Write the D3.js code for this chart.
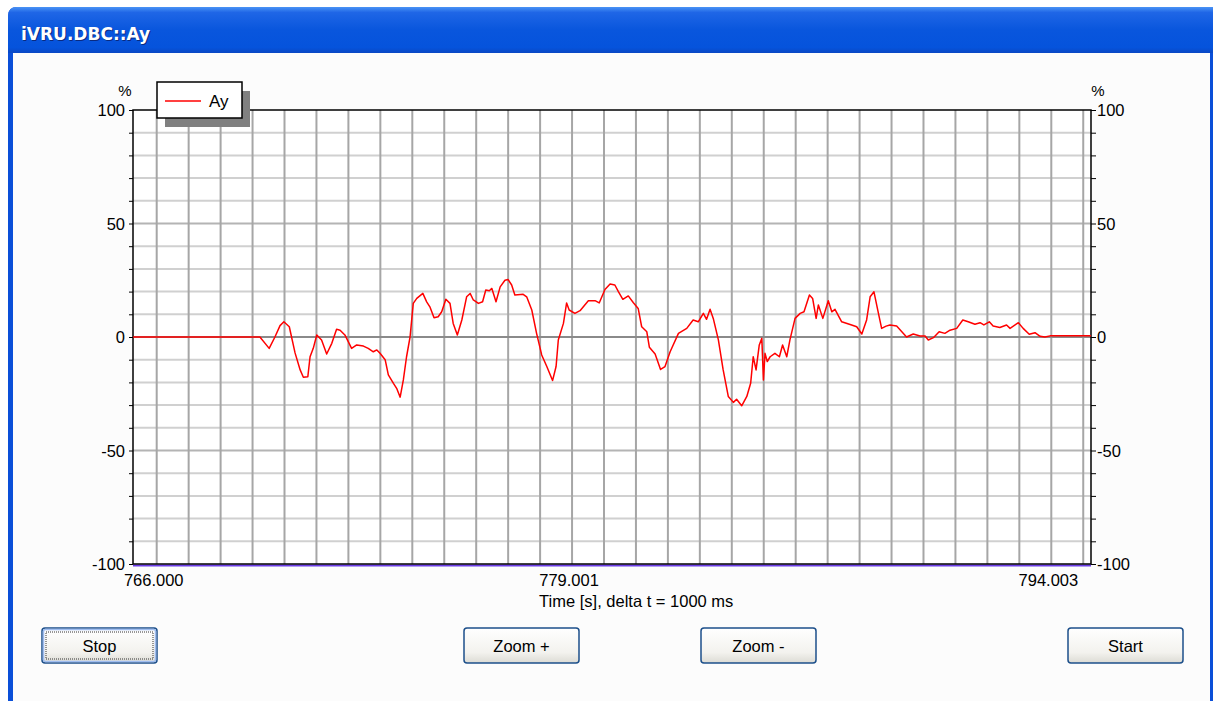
<!DOCTYPE html>
<html>
<head>
<meta charset="utf-8">
<script src="https://cdn.jsdelivr.net/npm/d3@7"></script>
<style>
  body{margin:0;background:#fff;}
  svg{display:block;}
  text{font-family:"Liberation Sans",Arial,sans-serif;}
</style>
</head>
<body>
<div id="chart"></div>
<script>
const windowTitle = "iVRU.DBC::Ay"
const seriesName = "Ay"
const unitLabel = "%"
const timeAxisTitle = "Time [s], delta t = 1000 ms"

const timeDomain = [765.258, 795.243]
const timeTickValues = [766.000, 779.001, 794.003]
const timeTickLabels = ["766.000", "779.001", "794.003"]
const yMajorTicks = [-100, -50, 0, 50, 100]
const buttonLabels = ["Stop", "Zoom +", "Zoom -", "Start"]

// sample times (s) and Ay (%)
const times = [765.26,769.23,769.52,769.70,769.86,769.98,770.15,770.33,770.49,770.59,770.73,770.80,770.90,771.01,771.16,771.32,771.48,771.63,771.74,771.89,
  772.10,772.26,772.47,772.62,772.78,772.89,772.99,773.15,773.25,773.41,773.51,773.62,773.72,773.82,773.93,774.03,774.14,774.33,774.45,774.55,
  774.68,774.81,774.92,775.05,775.18,775.28,775.41,775.55,775.70,775.81,775.91,776.07,776.20,776.30,776.41,776.49,776.62,776.75,776.90,777.00,
  777.11,777.21,777.47,777.58,777.74,777.89,778.05,778.21,778.39,778.50,778.57,778.73,778.83,778.91,779.09,779.25,779.51,779.72,779.85,780.03,
  780.19,780.34,780.45,780.59,780.76,780.92,781.07,781.18,781.34,781.42,781.60,781.77,781.91,782.07,782.33,782.59,782.79,782.95,783.11,783.21,
  783.32,783.42,783.58,783.73,783.89,784.05,784.15,784.31,784.47,784.59,784.67,784.76,784.86,784.94,784.99,785.04,785.11,785.20,785.35,785.49,
  785.59,785.72,785.82,785.98,786.14,786.26,786.43,786.53,786.64,786.71,786.85,787.02,787.13,787.23,787.44,787.75,787.91,788.07,788.22,788.33,
  788.45,788.59,788.69,788.83,788.95,789.16,789.47,789.68,789.89,790.05,790.15,790.31,790.49,790.67,790.83,791.04,791.23,791.40,791.61,791.77,
  791.89,792.06,792.18,792.39,792.60,792.71,792.97,793.12,793.31,793.49,793.65,793.80,793.96,795.24]
const ayValues = [0,0,-5,0,5,6.7,4.5,-7,-14.5,-17.7,-17.5,-8.7,-5,0.9,-1.3,-7.5,-2.8,3.4,3,0.9,
  -5,-3.5,-4,-5,-6.5,-5.7,-7.2,-10,-16.7,-20.4,-22.6,-26.5,-18.9,-8.7,0,14.8,17,19.2,15.5,13.3,
  8.5,8.9,11.1,16.6,14.8,6,0.9,7.5,17.7,19.2,16.3,14.8,15.5,20.7,20.4,21.4,15.5,22.1,25,25.3,
  22.9,18.5,18.8,17.7,11.9,1.6,-7.9,-13,-19.2,-13,-1.3,6,15,11.9,10.4,11.6,16,16,15,20.9,
  23.3,22.9,20,16.6,18.1,15.1,12.6,4.5,2.3,-4.5,-7.5,-14.3,-13,-6.5,1.6,3.8,7.5,6.7,10.4,7.8,
  12.2,8.2,-1.3,-14.5,-26.2,-28.8,-27.4,-30.3,-26.2,-20.4,-8.7,-14.5,-3.5,-0.6,-18.9,-7.2,-10.8,-8.7,-7.2,-8.7,
  -3.5,-8.7,-1.3,8.2,10.4,11.1,18.5,17,8.2,14.1,8.2,16,11.1,12.2,6.7,5.3,4.5,1.3,7.5,17.7,
  19.9,10.4,3.8,4.8,5.3,4.8,0,1.3,0.4,0.4,-1.3,-0.3,2.3,1.6,3,3.8,7.5,6.7,5.6,6.3,
  5.3,6.7,4.8,4.2,5.3,3.8,6.3,3.8,1.2,1.9,0.3,0,0.5,0.5]

drawWindow("#chart")

function drawWindow(id){
    const canvas = createCanvas()
    const svg = addSvg(id, canvas)
    addFrame(svg, canvas)
    const sc = addScales(canvas)
    addGrid(svg, sc, canvas)
    addAxes(svg, sc, canvas)
    addSeriesLine(svg, sc)
    addLegend(svg, canvas)
    addButtons(svg, canvas)
}

function createCanvas(){
    return {
        width: 1213, height: 701,
        plot: {left: 133, right: 1091, top: 110, bottom: 564},
        buttonY: 628, buttonH: 35, buttonW: 115,
        buttonX: [42, 464, 701, 1068]
    }
}

function addSvg(id, canvas){
    return d3.select(id).append("svg").attr("width", canvas.width).attr("height", canvas.height)
}

function addFrame(svg, canvas){
    const defs = svg.append("defs")
    const g = defs.append("linearGradient").attr("id", "titleGrad").attr("x1", 0).attr("y1", 0).attr("x2", 0).attr("y2", 1)
    g.append("stop").attr("offset", "0").attr("stop-color", "#4a93f5")
    g.append("stop").attr("offset", "0.12").attr("stop-color", "#1f66e6")
    g.append("stop").attr("offset", "0.5").attr("stop-color", "#0956dd")
    g.append("stop").attr("offset", "0.88").attr("stop-color", "#0553dc")
    g.append("stop").attr("offset", "1").attr("stop-color", "#0a48c4")

    const bg = defs.append("linearGradient").attr("id", "btnGrad").attr("x1", 0).attr("y1", 0).attr("x2", 0).attr("y2", 1)
    bg.append("stop").attr("offset", "0").attr("stop-color", "#ffffff")
    bg.append("stop").attr("offset", "0.7").attr("stop-color", "#f3f2ee")
    bg.append("stop").attr("offset", "1").attr("stop-color", "#dcdbd4")

    // outer blue window
    svg.append("path")
        .attr("d", "M8,701 L8,16 Q8,7 17,7 L1213,7 L1213,701 Z")
        .attr("fill", "#0a4fd8")
    svg.append("path")
        .attr("d", "M8,53 L8,16 Q8,7 17,7 L1213,7 L1213,53 Z")
        .attr("fill", "url(#titleGrad)")
    // client area
    svg.append("rect").attr("x", 13).attr("y", 53).attr("width", 1197).attr("height", 660).attr("fill", "#fcfcfc")

    svg.append("text").attr("x", 22).attr("y", 41).text(windowTitle)
        .style("font-family", "'DejaVu Sans',sans-serif").style("font-weight", "bold").style("font-size", "17px")
        .attr("fill", "#0a2a80")
    svg.append("text").attr("x", 21).attr("y", 40).text(windowTitle)
        .style("font-family", "'DejaVu Sans',sans-serif").style("font-weight", "bold").style("font-size", "17px")
        .attr("fill", "#ffffff")
}

function addScales(canvas){
    const xScale = d3.scaleLinear().domain(timeDomain).range([canvas.plot.left, canvas.plot.right])
    const yScale = d3.scaleLinear().domain([-100, 100]).range([canvas.plot.bottom, canvas.plot.top])
    return {xScale, yScale}
}

function addGrid(svg, sc, canvas){
    const p = canvas.plot
    svg.append("rect").attr("x", p.left).attr("y", p.top).attr("width", p.right - p.left).attr("height", p.bottom - p.top).attr("fill", "#ffffff")

    const hLines = d3.range(-90, 100, 10)
    svg.append("g").selectAll("line").data(hLines).join("line")
        .attr("x1", p.left).attr("x2", p.right)
        .attr("y1", d => sc.yScale(d)).attr("y2", d => sc.yScale(d))
        .attr("stroke", d => d === 0 ? "#8a8a8a" : (Math.abs(d) === 50 ? "#b4b4b4" : "#d0d0d0"))
        .attr("stroke-width", 2)

    const vLines = d3.range(Math.ceil(timeDomain[0]), Math.floor(timeDomain[1]) + 1)
    svg.append("g").selectAll("line").data(vLines).join("line")
        .attr("x1", d => sc.xScale(d)).attr("x2", d => sc.xScale(d))
        .attr("y1", p.top).attr("y2", p.bottom)
        .attr("stroke", "#a6a6a6").attr("stroke-width", 2)

    // zero line over verticals
    svg.append("line").attr("x1", p.left).attr("x2", p.right)
        .attr("y1", sc.yScale(0)).attr("y2", sc.yScale(0))
        .attr("stroke", "#8a8a8a").attr("stroke-width", 2)
}

function addAxes(svg, sc, canvas){
    const p = canvas.plot
    const minor = d3.range(-100, 101, 10)

    // left axis
    svg.append("g").attr("transform", `translate(${p.left},0)`)
        .call(d3.axisLeft(sc.yScale).tickValues(minor).tickSize(4).tickFormat(""))
        .call(g => g.select(".domain").remove())
        .call(g => g.selectAll("line").attr("stroke", "#000"))
    svg.append("g").selectAll("text").data(yMajorTicks).join("text")
        .attr("x", p.left - 8).attr("y", d => sc.yScale(d) + 6)
        .attr("text-anchor", "end").style("font-size", "16.5px").attr("fill", "#000")
        .text(d => d)

    // right axis
    svg.append("g").attr("transform", `translate(${p.right},0)`)
        .call(d3.axisRight(sc.yScale).tickValues(minor).tickSize(5).tickFormat(""))
        .call(g => g.select(".domain").remove())
        .call(g => g.selectAll("line").attr("stroke", "#000"))
    svg.append("g").selectAll("text").data(yMajorTicks).join("text")
        .attr("x", p.right + 6).attr("y", d => sc.yScale(d) + 6)
        .attr("text-anchor", "start").style("font-size", "16.5px").attr("fill", "#000")
        .text(d => d)

    svg.append("text").attr("x", p.left - 8).attr("y", 96).attr("text-anchor", "middle")
        .style("font-size", "15px").text(unitLabel)
    svg.append("text").attr("x", p.right + 7).attr("y", 96).attr("text-anchor", "middle")
        .style("font-size", "15px").text(unitLabel)

    // frame
    svg.append("path")
        .attr("d", `M${p.left},${p.bottom} L${p.left},${p.top} L${p.right},${p.top} L${p.right},${p.bottom}`)
        .attr("fill", "none").attr("stroke", "#000").attr("stroke-width", 1.5)

    // bottom axis (series at -100 underlay in purple)
    svg.append("line").attr("x1", p.left).attr("x2", p.right)
        .attr("y1", sc.yScale(-100) + 1.5).attr("y2", sc.yScale(-100) + 1.5)
        .attr("stroke", "#6a3ce6").attr("stroke-width", 2)
    svg.append("line").attr("x1", p.left).attr("x2", p.right)
        .attr("y1", sc.yScale(-100)).attr("y2", sc.yScale(-100))
        .attr("stroke", "#000").attr("stroke-width", 1.5)

    svg.append("g").selectAll("text").data(timeTickValues).join("text")
        .attr("x", d => sc.xScale(d) - 3).attr("y", p.bottom + 22)
        .attr("text-anchor", "middle").style("font-size", "16.5px").attr("fill", "#000")
        .text((d, i) => timeTickLabels[i])

    svg.append("text").attr("x", sc.xScale(timeTickValues[1]) - 33).attr("y", p.bottom + 43)
        .attr("text-anchor", "start").style("font-size", "16.5px").attr("fill", "#000")
        .text(timeAxisTitle)
}

function addSeriesLine(svg, sc){
    const data = times.map((t, i) => ({t: t, v: ayValues[i]}))
    const line = d3.line().x(d => sc.xScale(d.t)).y(d => sc.yScale(d.v))
    svg.append("path").datum(data).attr("fill", "none").attr("stroke", "#ff0000")
        .attr("stroke-width", 1.5).attr("stroke-linejoin", "round").attr("d", line)
}

function addLegend(svg, canvas){
    const lx = 157, ly = 82, lw = 85, lh = 36
    svg.append("rect").attr("x", lx + 8).attr("y", ly + 9).attr("width", lw).attr("height", lh).attr("fill", "#808080")
    svg.append("rect").attr("x", lx).attr("y", ly).attr("width", lw).attr("height", lh)
        .attr("fill", "#ffffff").attr("stroke", "#000").attr("stroke-width", 1.5)
    svg.append("line").attr("x1", lx + 8).attr("x2", lx + 44).attr("y1", ly + 19).attr("y2", ly + 19)
        .attr("stroke", "#ff0000").attr("stroke-width", 1.5)
    svg.append("text").attr("x", lx + 52).attr("y", ly + 25).style("font-size", "17px").text(seriesName)
}

function addButtons(svg, canvas){
    const g = svg.append("g").selectAll("g").data(buttonLabels).join("g")
        .attr("transform", (d, i) => `translate(${canvas.buttonX[i]},${canvas.buttonY})`)
    g.append("rect").attr("width", canvas.buttonW).attr("height", canvas.buttonH).attr("rx", 3)
        .attr("fill", "url(#btnGrad)").attr("stroke", "#1c4f8a").attr("stroke-width", 1.5)
    g.filter((d, i) => i === 0).append("rect")
        .attr("x", 1.5).attr("y", 1.5).attr("width", canvas.buttonW - 3).attr("height", canvas.buttonH - 3).attr("rx", 2)
        .attr("fill", "none").attr("stroke", "#9fbdf0").attr("stroke-width", 1.5)
    g.filter((d, i) => i === 0).append("rect")
        .attr("x", 4).attr("y", 4).attr("width", canvas.buttonW - 8).attr("height", canvas.buttonH - 8)
        .attr("fill", "none").attr("stroke", "#333").attr("stroke-width", 1).attr("stroke-dasharray", "1 1")
    g.append("text").attr("x", canvas.buttonW / 2).attr("y", canvas.buttonH / 2 + 6)
        .attr("text-anchor", "middle").style("font-size", "16.5px").attr("fill", "#000")
        .text(d => d)
}
</script>
</body>
</html>
